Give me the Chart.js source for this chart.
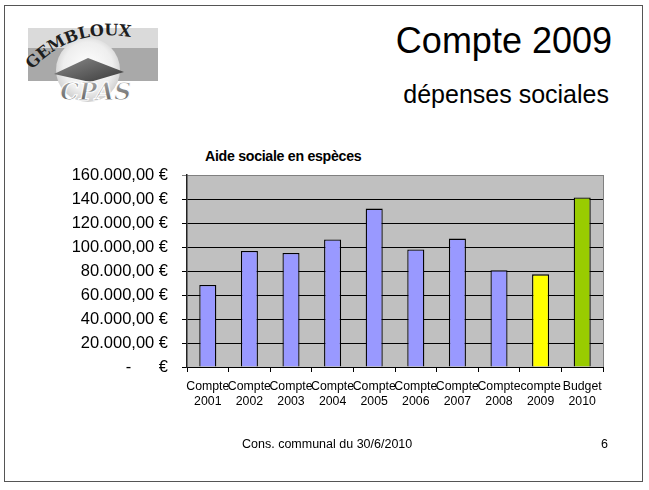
<!DOCTYPE html>
<html lang="fr">
<head>
<meta charset="utf-8">
<title>Compte 2009 - dépenses sociales</title>
<script src="https://cdn.jsdelivr.net/npm/chart.js@4/dist/chart.umd.min.js"></script>
<style>
    html, body { margin: 0; padding: 0; background: #fff; }
    body { width: 649px; height: 490px; position: relative; overflow: hidden;
           font-family: "Liberation Sans", Arial, sans-serif; color: #000; }
    #cadre { position: absolute; left: 4px; top: 5px; width: 639px; height: 477px;
             border: 1px solid #555; box-sizing: border-box; }
    #logo { position: absolute; left: 20px; top: 20px; }
    #titre { position: absolute; right: 37px; top: 20px; font-size: 36px; white-space: nowrap; }
    #sousTitre { position: absolute; right: 40px; top: 80px; font-size: 25px; white-space: nowrap; }
    #titreGraphe { position: absolute; left: 205px; top: 148px; font-size: 14.2px; letter-spacing: -0.3px;
                   font-weight: bold; white-space: nowrap; }
    #graphe { position: absolute; left: 0; top: 140px; width: 649px; height: 300px; }
    #piedGauche { position: absolute; left: 242px; top: 437px; font-size: 12.5px; white-space: nowrap; }
    #piedDroite { position: absolute; left: 601px; top: 437px; font-size: 12.5px; }
</style>
</head>
<body>
<div id="cadre"></div>

<!-- logo du CPAS -->
<svg id="logo" width="140" height="90" viewBox="0 0 140 90">
    <defs>
        <radialGradient id="halo" cx="0.5" cy="0.45" r="0.55">
            <stop offset="0" stop-color="#ffffff"/>
            <stop offset="0.7" stop-color="#eeeeee"/>
            <stop offset="1" stop-color="#cfcfcf"/>
        </radialGradient>
        <linearGradient id="toque" x1="0" y1="0" x2="1" y2="1">
            <stop offset="0" stop-color="#8a8a8a"/>
            <stop offset="1" stop-color="#3a3a3a"/>
        </linearGradient>
        <linearGradient id="lettres" x1="0" y1="0" x2="0" y2="1">
            <stop offset="0" stop-color="#b0b0b0"/>
            <stop offset="1" stop-color="#555555"/>
        </linearGradient>
        <path id="arc" d="M 12 50 Q 58 0 132 22"/>
    </defs>
    <rect x="8" y="8" width="130" height="20" fill="#dadada"/>
    <rect x="8" y="28" width="130" height="33" fill="#a9a9a9"/>
    <ellipse cx="68" cy="50" rx="32" ry="32" fill="url(#halo)"/>
    <polygon points="34,54 68,38 104,52 70,62" fill="url(#toque)"/>
    <text font-family="DejaVu Serif, serif" font-weight="bold" font-size="16" fill="#1e1e1e">
        <textPath href="#arc">GEMBLOUX</textPath>
    </text>
    <text x="40" y="80" font-family="DejaVu Serif, serif" font-style="italic" font-weight="bold" font-size="24"
          fill="url(#lettres)" stroke="#ffffff" stroke-width="1.1">CPAS</text>
</svg>

<div id="titre">Compte 2009</div>
<div id="sousTitre">dépenses sociales</div>
<div id="titreGraphe">Aide sociale en espèces</div>

<canvas id="graphe" width="649" height="300"></canvas>

<div id="piedGauche">Cons. communal du 30/6/2010</div>
<div id="piedDroite">6</div>

<script>
// Libellés de l'axe X (deux lignes) et montants en euros
const libelles = ['Compte', 'Compte', 'Compte', 'Compte', 'Compte', 'Compte', 'Compte', 'Compte', 'compte', 'Budget'];
const annees = ['2001', '2002', '2003', '2004', '2005', '2006', '2007', '2008', '2009', '2010'];
const montants = [68300, 96700, 95000, 106200, 132000, 98000, 107000, 80600, 77200, 141200];
const couleurs = ['#9999ff', '#9999ff', '#9999ff', '#9999ff', '#9999ff', '#9999ff', '#9999ff', '#9999ff', '#ffff00', '#99cc00'];

// Echelle Y
const yMin = 0;
const yMax = 160000;
const yPas = 20000;

const police = '"Liberation Sans", Arial, sans-serif';

// Format comptable : 160.000,00 €
function formatEuro(v) {
    if (v === 0) return '-      €';
    const entier = Math.floor(v).toString().replace(/\B(?=(\d{3})+(?!\d))/g, '.');
    return entier + ',00 €';
}

// Fond gris de la zone de tracé + bord droit
const fondZone = {
    id: 'fondZone',
    beforeDraw(chart) {
        const { ctx, chartArea: a } = chart;
        ctx.save();
        ctx.fillStyle = '#c0c0c0';
        ctx.fillRect(a.left, a.top, a.right - a.left, a.bottom - a.top);
        ctx.restore();
    },
    afterDraw(chart) {
        const { ctx, chartArea: a } = chart;
        ctx.save();
        ctx.strokeStyle = '#808080';
        ctx.lineWidth = 1;
        ctx.beginPath();
        ctx.moveTo(a.right + 0.5, a.top);
        ctx.lineTo(a.right + 0.5, a.bottom);
        ctx.stroke();
        ctx.restore();
    }
};

const ctx = document.getElementById('graphe').getContext('2d');
new Chart(ctx, {
    type: 'bar',
    data: {
        labels: libelles.map((l, i) => [l, annees[i]]),
        datasets: [{
            data: montants,
            backgroundColor: couleurs,
            borderColor: '#000',
            borderWidth: 1.3,
            barPercentage: 0.41,
            categoryPercentage: 1
        }]
    },
    options: {
        responsive: false,
        animation: false,
        devicePixelRatio: 1,
        layout: { padding: { left: 40, right: 46, top: 35, bottom: 23 } },
        plugins: {
            legend: { display: false },
            tooltip: { enabled: false },
            title: { display: false }
        },
        scales: {
            x: {
                afterFit(scale) { scale.height = 50; },
                grid: {
                    drawOnChartArea: false,
                    color: '#000',
                    tickLength: 5,
                    offset: true
                },
                border: { color: '#000', width: 1 },
                ticks: {
                    color: '#000',
                    font: { family: police, size: 12.3, lineHeight: 1.2 },
                    autoSkip: false,
                    maxRotation: 0,
                    minRotation: 0,
                    padding: 7
                }
            },
            y: {
                min: yMin,
                max: yMax,
                afterFit(scale) { scale.width = 147; },
                grid: {
                    color: (c) => (c.tick && c.tick.value === yMax ? '#808080' : '#000'),
                    tickLength: 5
                },
                border: { color: '#222', width: 1.5 },
                ticks: {
                    stepSize: yPas,
                    color: '#000',
                    font: { family: police, size: 16.5 },
                    padding: 14,
                    callback: (v) => formatEuro(v)
                }
            }
        }
    },
    plugins: [fondZone]
});
</script>
</body>
</html>
